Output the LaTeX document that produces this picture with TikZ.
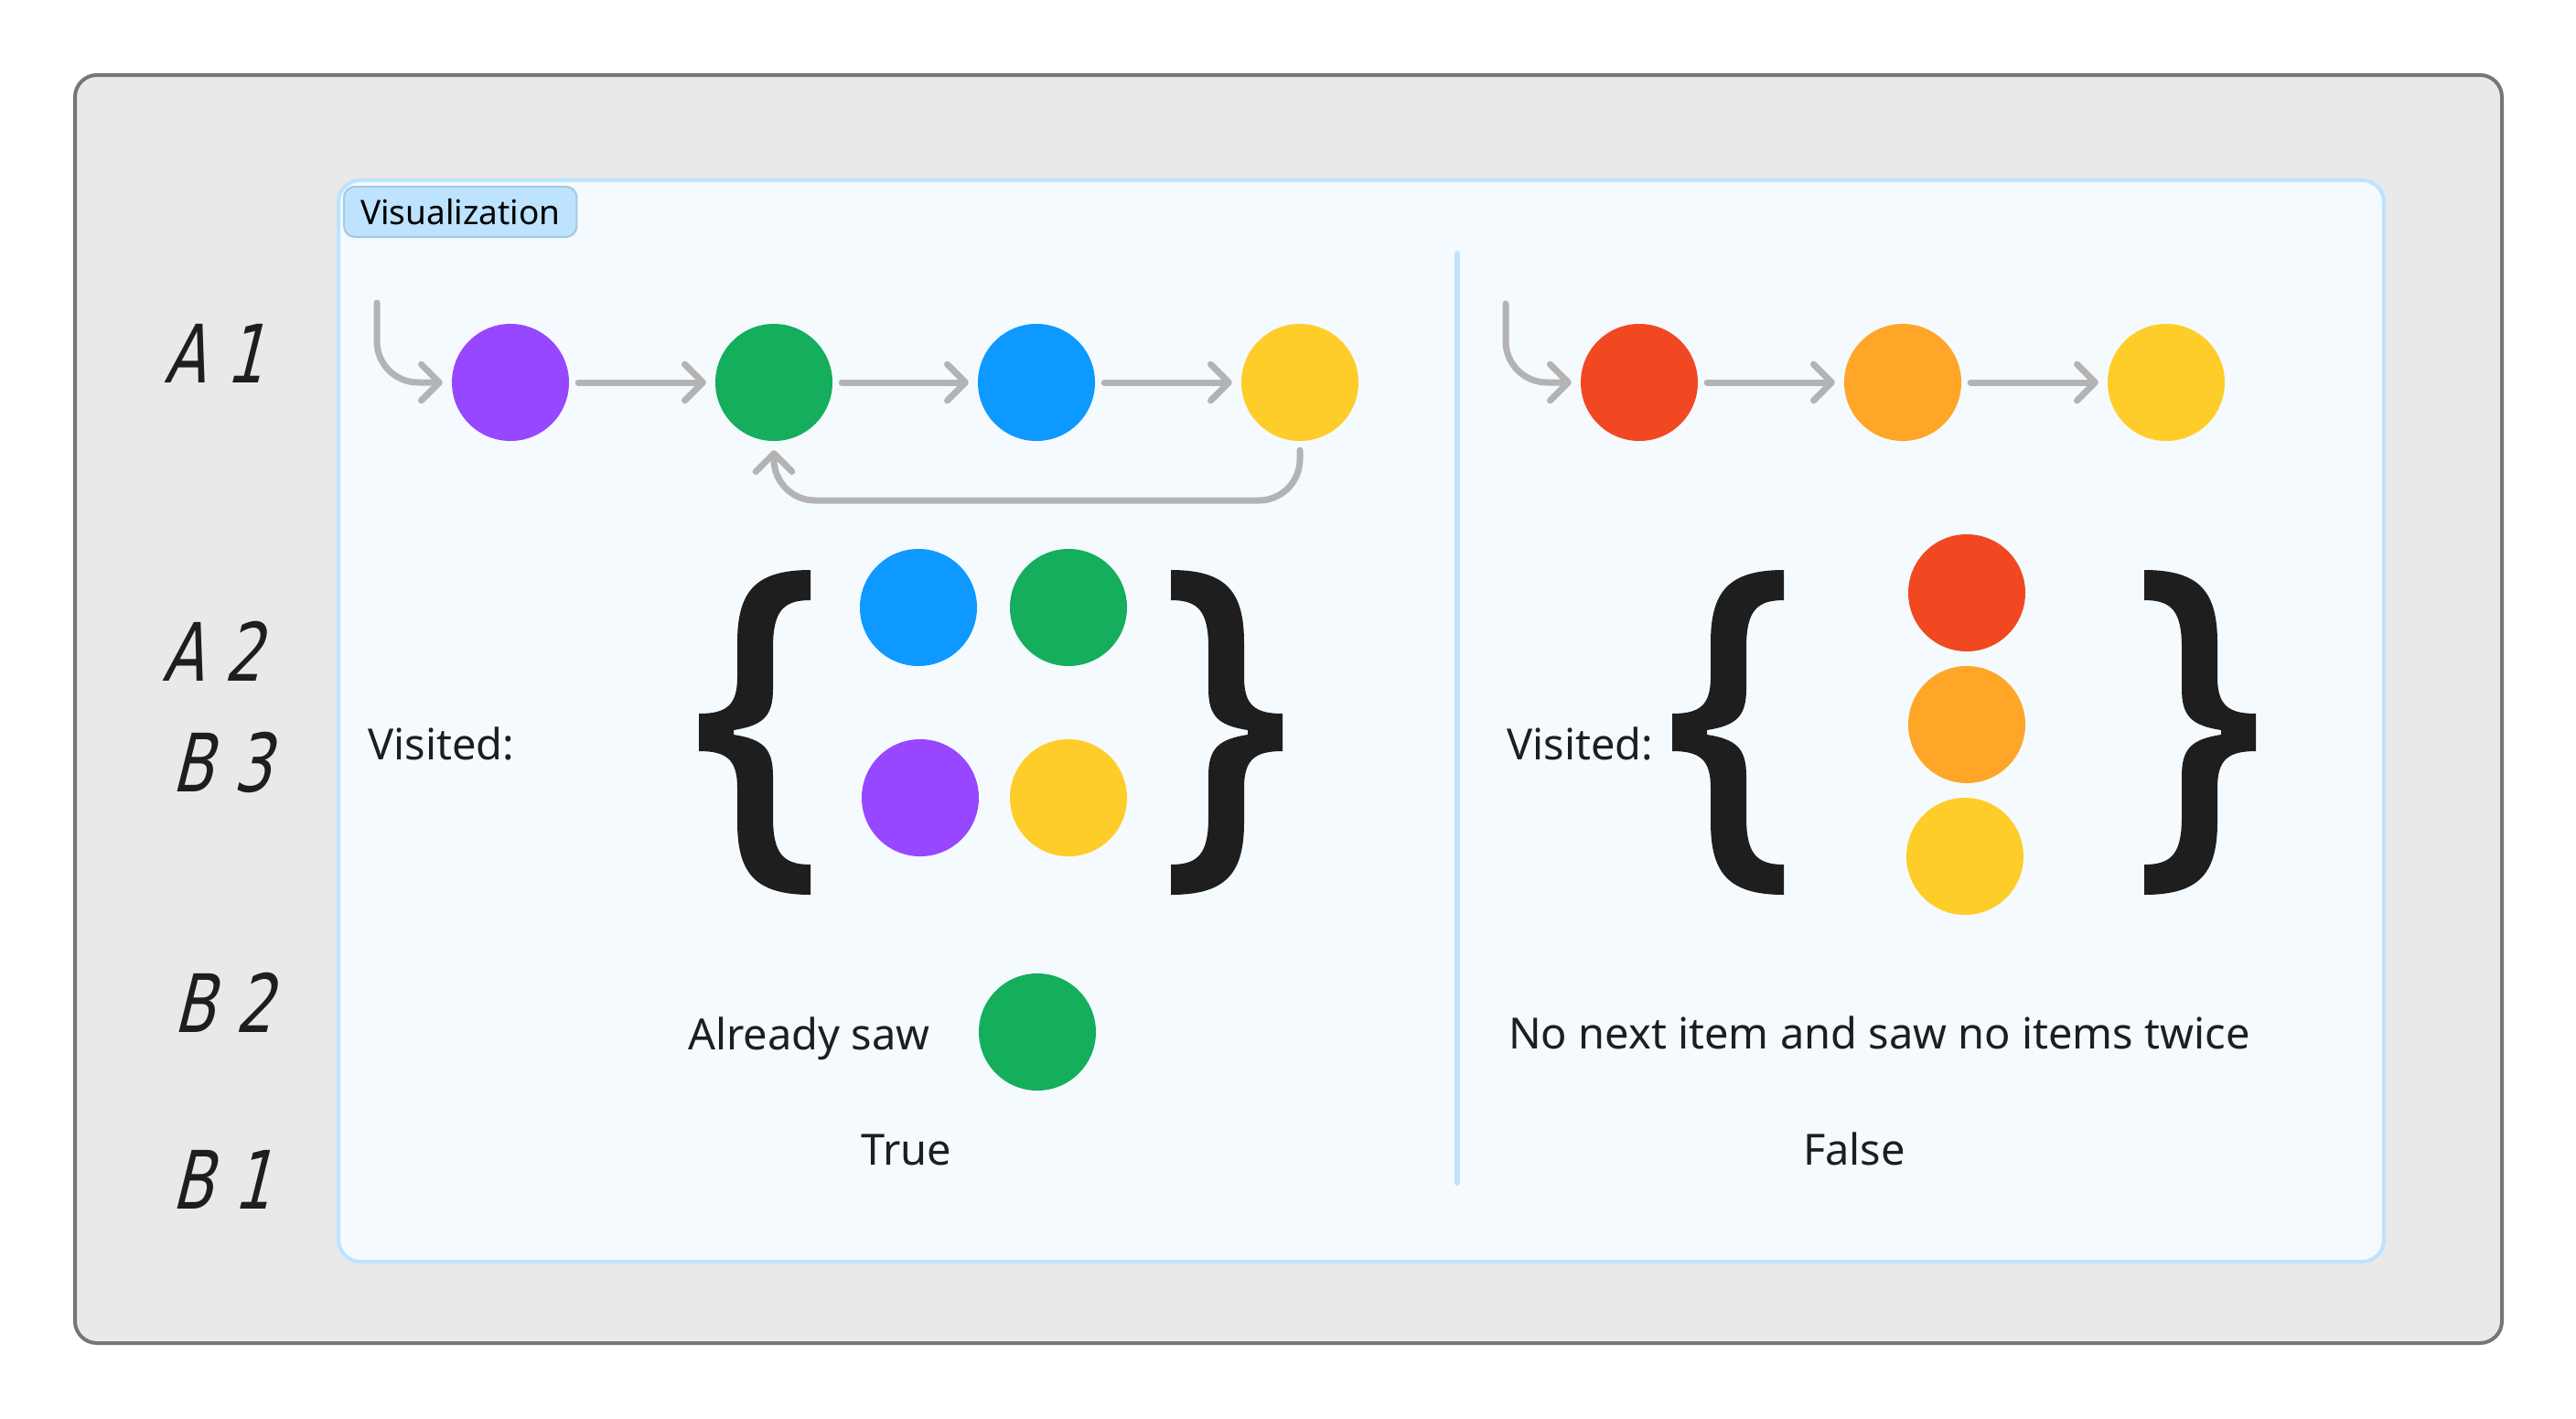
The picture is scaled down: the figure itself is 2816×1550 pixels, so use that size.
\documentclass[tikz,border=0pt]{standalone}
\usepackage{fontspec}
\setmainfont{Noto Sans}
\newfontfamily\handfont{DejaVu Sans}[FakeSlant=0.25,FakeStretch=0.75]
\usetikzlibrary{arrows.meta}

\definecolor{purp}{HTML}{9747FF}
\definecolor{grn}{HTML}{14AE5C}
\definecolor{blu}{HTML}{0D99FF}
\definecolor{yel}{HTML}{FFCD29}
\definecolor{rd}{HTML}{F24822}
\definecolor{org}{HTML}{FFA629}
\definecolor{arrowgray}{HTML}{B3B3B3}
\definecolor{ink}{HTML}{1E1E1E}
\definecolor{framegray}{HTML}{767676}
\definecolor{framefill}{HTML}{E9E9E9}
\definecolor{panelfill}{HTML}{F5FAFF}
\definecolor{panelline}{HTML}{BDE3FF}
\definecolor{tagline}{HTML}{A3C8E3}

\tikzset{
  dot/.style={circle, minimum size=128pt, inner sep=0pt},
  link/.style={draw=arrowgray, line width=7pt, line cap=round, line join=round,
    shorten <=10pt, shorten >=10pt, -{Straight Barb[angle=90:28pt, round]}},
  hand/.style={font=\handfont\fontsize{88}{88}\selectfont, text=ink, inner sep=0pt},
  lbl/.style={font=\fontsize{47}{56}\selectfont, text=ink, inner sep=0pt},
  tag/.style={draw=tagline, fill=panelline, line width=2pt, rounded corners=12pt,
    font=\fontsize{37}{40}\selectfont, text height=27pt, text depth=0pt,
    inner xsep=18pt, inner ysep=14pt},
  brace/.pic={
    \fill[ink] (122,0) .. controls (60,0) and (42,25) .. (42,80)
      -- (42,117) .. controls (42,148) and (30,157) .. (0,157)
      -- (0,198) .. controls (30,198) and (42,207) .. (42,238)
      -- (42,275) .. controls (42,330) and (60,355) .. (122,355)
      -- (122,322) .. controls (92,322) and (81,310) .. (81,270)
      -- (81,225) .. controls (81,195) and (70,185) .. (38,180)
      -- (38,175) .. controls (70,170) and (81,160) .. (81,130)
      -- (81,85) .. controls (81,45) and (92,33) .. (122,33) -- cycle;
  }
}

\begin{document}
\begin{tikzpicture}[x=1pt, y=-1pt]
  \useasboundingbox (0,0) rectangle (2816,1550);
  % frame and panel
  \draw[framegray, fill=framefill, line width=4pt, rounded corners=24pt] (82,82) rectangle (2735,1468);
  \draw[panelline, fill=panelfill, line width=4pt, rounded corners=24pt] (370,197) rectangle (2606,1379);
  \node[tag, anchor=north west] (tag) at (375,203) {Visualization};
  \draw[panelline, line width=6pt, line cap=round] (1593,277) -- (1593,1293);

  % row labels
  \node[hand] (a1) at (234,386) {A 1};
  \node[hand] (a2) at (232,712) {A 2};
  \node[hand] (b3) at (242,833) {B 3};
  \node[hand] (b2) at (244,1096) {B 2};
  \node[hand] (b1) at (242,1289) {B 1};

  % left list, with a cycle
  \node[dot, fill=purp] (p1) at (558,418) {};
  \node[dot, fill=grn] (g1) at (846,418) {};
  \node[dot, fill=blu] (bl1) at (1133,418) {};
  \node[dot, fill=yel] (y1) at (1421,418) {};
  \coordinate (in1) at (412,321);
  \coordinate (back) at (1133,547);
  \draw[link, rounded corners=45pt] (in1) |- (p1);
  \draw[link] (p1) -- (g1);
  \draw[link] (g1) -- (bl1);
  \draw[link] (bl1) -- (y1);
  \draw[link, rounded corners=45pt] (y1) |- (back) -| (g1);

  % right list, no cycle
  \node[dot, fill=rd] (r2) at (1792,418) {};
  \node[dot, fill=org] (o2) at (2080,418) {};
  \node[dot, fill=yel] (y2) at (2368,418) {};
  \coordinate (in2) at (1646,322);
  \draw[link, rounded corners=45pt] (in2) |- (r2);
  \draw[link] (r2) -- (o2);
  \draw[link] (o2) -- (y2);

  % visited sets
  \node[lbl, anchor=base west] (vis1) at (402,830) {Visited:};
  \pic at (764,623) {brace};
  \pic[xscale=-1] at (1402,623) {brace};
  \node[dot, fill=blu] (sb) at (1004,664) {};
  \node[dot, fill=grn] (sg) at (1168,664) {};
  \node[dot, fill=purp] (sp) at (1006,872) {};
  \node[dot, fill=yel] (sy) at (1168,872) {};

  \node[lbl, anchor=base west] (vis2) at (1647,830) {Visited:};
  \pic at (1828,623) {brace};
  \pic[xscale=-1] at (2466,623) {brace};
  \node[dot, fill=rd] (sr) at (2150,648) {};
  \node[dot, fill=org] (so) at (2150,792) {};
  \node[dot, fill=yel] (syy) at (2148,936) {};

  % results
  \node[lbl, anchor=base west] (saw) at (752,1147) {Already saw};
  \node[dot, fill=grn] (seen) at (1134,1128) {};
  \node[lbl, anchor=base] (yes) at (991,1273) {True};
  \node[lbl, anchor=base west] (none) at (1649,1146) {No next item and saw no items twice};
  \node[lbl, anchor=base] (no) at (2027,1273) {False};
\end{tikzpicture}
\end{document}
